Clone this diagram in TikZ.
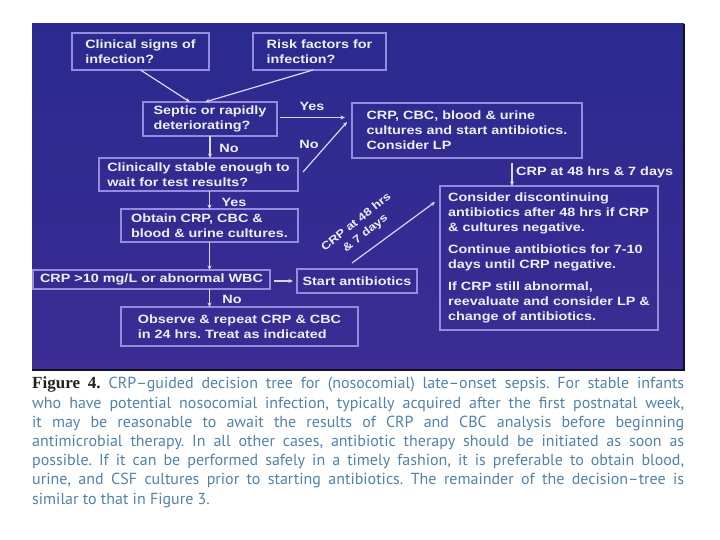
\documentclass[tikz,border=0pt]{standalone}
\usepackage{fontspec}
\setmainfont{Liberation Sans}
\newfontfamily\slidefont[FakeStretch=1.2]{Liberation Sans}
\newfontfamily\capfont{PT Sans}
\newfontfamily\figfont{Liberation Serif}
\usetikzlibrary{arrows.meta,calc}
\definecolor{bgtop}{RGB}{42,42,142}
\definecolor{bgbot}{RGB}{60,44,148}
\definecolor{boxc}{RGB}{150,140,222}
\definecolor{txtc}{RGB}{238,238,246}
\definecolor{arrc}{RGB}{215,215,242}
\definecolor{capc}{RGB}{82,130,172}
\definecolor{figc}{RGB}{35,35,35}
\definecolor{shadowc}{RGB}{20,16,40}
\frenchspacing
\begin{document}
\begin{tikzpicture}[x=1pt,y=-1pt,
  bx/.style={draw=boxc, line width=1.3pt, text=txtc, font=\slidefont\bfseries\fontsize{12}{15}\selectfont, align=left, inner sep=0pt, outer sep=0pt},
  arr/.style={draw=arrc, line width=1.2pt, -{Stealth[length=4.5pt,width=4pt]}},
  lbl/.style={text=txtc, font=\slidefont\bfseries\fontsize{12}{15}\selectfont, inner sep=0pt}]
\useasboundingbox (0,0) rectangle (720,540);
\fill[white] (0,0) rectangle (720,540);
\shade[top color=bgtop, bottom color=bgbot] (32,24) rectangle (684,370);
\draw[shadowc, line width=2pt] (32,370) -- (684,370) -- (684,24);

% boxes
\node[bx, minimum width=137pt, minimum height=37pt] (clin) at (140.5,51.5) {Clinical signs of\\infection?};
\node[bx, minimum width=133pt, minimum height=37pt] (risk) at (319.5,51.5) {Risk factors for\\infection?};
\node[bx, minimum width=134pt, minimum height=34pt] (sept) at (210,119) {Septic or rapidly\\deteriorating?};
\node[bx, minimum width=230pt, minimum height=55pt] (crpbox) at (467,130.5) {CRP, CBC, blood \& urine\\cultures and start antibiotics.\\Consider LP};
\node[bx, minimum width=199pt, minimum height=33pt] (stable) at (198.5,174.5) {Clinically stable enough to\\wait for test results?};
\node[bx, minimum width=177pt, minimum height=33pt] (obtain) at (209.5,225.5) {Obtain CRP, CBC \&\\blood \& urine cultures.};
\node[bx, minimum width=237pt, minimum height=19pt] (crp10) at (151.5,279.5) {CRP >10 mg/L or abnormal WBC};
\node[bx, minimum width=120pt, minimum height=24pt] (start) at (357,281) {Start antibiotics};
\node[bx, minimum width=237pt, minimum height=39pt] (observe) at (239.5,326.5) {Observe \& repeat CRP \& CBC\\in 24 hrs. Treat as indicated};
\node[bx, minimum width=218pt, minimum height=144pt] (right) at (549,258) {Consider discontinuing\\antibiotics after 48 hrs if CRP\\\& cultures negative.\\[7pt]Continue antibiotics for 7-10\\days until CRP negative.\\[7pt]If CRP still abnormal,\\reevaluate and consider LP \&\\change of antibiotics.};

% connectors
\draw[arr] (clin.south) -- ($(sept.north)+(-20,0)$);
\draw[arr] ($(risk.south)+(-6.5,0)$) -- ($(sept.north)+(-5,0)$);
\draw[arr] ($(sept.east)+(3,-1.5)$) -- ($(crpbox.west |- sept.east)+(-7,-1.5)$);
\draw[arr] ($(stable.east)+(5,-2.5)$) -- ($(crpbox.west)+(-5,-8.5)$);
\draw[arr] (sept.south) -- (sept.south |- stable.north);
\draw[arr] (obtain.north |- stable.south) -- (obtain.north);
\draw[arr] (obtain.south) -- (obtain.south |- crp10.north);
\draw[arr] (obtain.south |- crp10.south) -- (obtain.south |- observe.north);
\draw[arr] ($(crp10.east |- start.west)+(4,0)$) -- ($(start.west)+(-4,0)$);
\coordinate (vtop) at ($(crpbox.south)+(45,5)$);
\draw[arr] (vtop) -- (vtop |- right.north);
\draw[arr] ($(start.north)+(-5,-6)$) -- ($(right.north west)+(-5,16)$);

% labels
\node[lbl] (yes1) at (312,106) {Yes};
\node[lbl] (no1) at (229,148) {No};
\node[lbl] (no2) at (309,144) {No};
\node[lbl] (yes2) at (234,202) {Yes};
\node[lbl] (no3) at (232,299) {No};
\node[lbl, anchor=west] (l48) at (516,172) {CRP at 48 hrs \& 7 days};
\node[lbl, align=center, rotate=39, font=\slidefont\bfseries\fontsize{11}{14.5}\selectfont] (ldiag) at (361,228) {CRP at 48 hrs\\\& 7 days};

% caption
\node[anchor=north west, inner sep=0pt, text width=652pt, align=justify, text=capc, font=\capfont\fontsize{16}{19.2}\selectfont] (cap) at (32,377) {{\figfont\bfseries\color{figc}\fontsize{17}{19.2}\selectfont Figure 4.} CRP–guided decision tree for (nosocomial) late–onset sepsis. For stable infants\linebreak
who have potential nosocomial infection, typically acquired after the first postnatal week,\linebreak
it may be reasonable to await the results of CRP and CBC analysis before beginning\linebreak
antimicrobial therapy. In all other cases, antibiotic therapy should be initiated as soon as\linebreak
possible. If it can be performed safely in a timely fashion, it is preferable to obtain blood,\linebreak
urine, and CSF cultures prior to starting antibiotics. The remainder of the decision–tree is\linebreak
similar to that in Figure 3.};
\end{tikzpicture}
\end{document}
